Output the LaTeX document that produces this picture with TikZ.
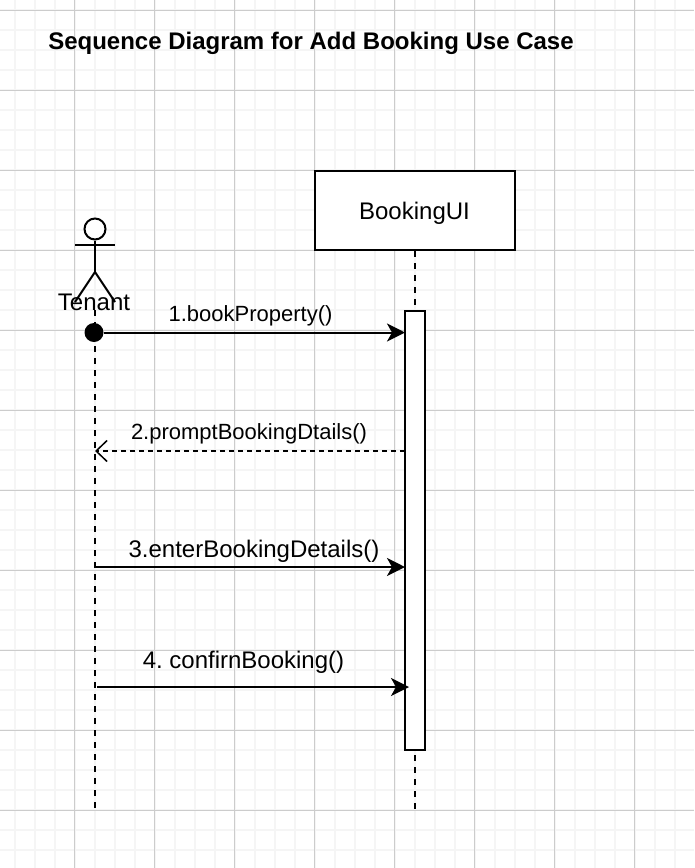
\documentclass[tikz,border=0pt]{standalone}
\usepackage{fontspec}
\setmainfont{Liberation Sans}
\usetikzlibrary{arrows.meta}
\frenchspacing

\tikzset{
  msg/.style={line width=2pt, -{Stealth[length=18pt,width=18pt,inset=5pt]}},
  reply/.style={line width=1.5pt, dash pattern=on 5pt off 4pt, -{Straight Barb[length=11pt,width=21pt]}},
  life/.style={line width=2pt, dash pattern=on 6pt off 6pt},
  stick/.style={line width=2pt},
  lbl/.style={inner sep=0pt, font=\fontsize{22}{26}\selectfont},
  lblbig/.style={inner sep=0pt, font=\fontsize{24}{28}\selectfont}
}

\begin{document}
\begin{tikzpicture}[x=1pt,y=-1pt]
\useasboundingbox (0,0) rectangle (694,868);

% grid
\foreach \x in {14.5,34.5,...,694} \draw[line width=2pt, black!4] (\x,0)--(\x,868);
\foreach \y in {10,30,...,868} \draw[line width=2pt, black!4] (0,\y)--(694,\y);
\foreach \x in {74.5,154.5,...,694} \draw[line width=1pt, black!20] (\x,0)--(\x,868);
\foreach \y in {10,90,...,868} \draw[line width=1pt, black!20] (0,\y)--(694,\y);

\node[inner sep=0pt, font=\fontsize{24}{28}\selectfont\bfseries] (title) at (311,43) {Sequence Diagram for Add Booking Use Case};

% lifelines
\coordinate (tenantTop) at (95,310);
\coordinate (tenantEnd) at (95,810);
\coordinate (bookingEnd) at (415,810);
\node[draw, stick, fill=white, minimum width=200pt, minimum height=79pt, inner sep=0pt] (booking) at (415,210.5) {};
\node[lblbig] (bookinglbl) at (414.5,213) {BookingUI};
\draw[life] (tenantTop)--(tenantEnd);
\draw[life] (booking.south)--(bookingEnd);
\node[draw, stick, fill=white, minimum width=20pt, minimum height=439pt, inner sep=0pt] (act) at (415,530.5) {};

% actor
\node[draw, stick, fill=white, circle, minimum size=21pt, inner sep=0pt] (head) at (95,229) {};
\coordinate (armL) at (75,245);
\coordinate (armR) at (115,245);
\coordinate (hip) at (95,272);
\coordinate (legL) at (75,302);
\coordinate (legR) at (115,302);
\draw[stick] (armL)--(armR);
\draw[stick] (head.south)--(hip);
\draw[stick] (legL)--(hip)--(legR);
\node[inner sep=0pt, font=\fontsize{24}{28}\selectfont] (tenant) at (94,302) {Tenant};

% messages
\node[circle, fill=black, minimum size=19pt, inner sep=0pt] (start) at (94,332.5) {};
\coordinate (m1) at (405,332.5);
\coordinate (m2a) at (405,451);
\coordinate (m2b) at (95,451);
\coordinate (m3a) at (95,567);
\coordinate (m3b) at (405,567);
\coordinate (m4a) at (97,687);
\coordinate (m4b) at (409,687);

\draw[msg] (start)--(m1);
\draw[reply] (m2a)--(m2b);
\draw[msg] (m3a)--(m3b);
\draw[msg] (m4a)--(m4b);

\node[lbl] (l1) at (250.5,316) {1.bookProperty()};
\node[lbl] (l2) at (249,434) {2.promptBookingDtails()};
\node[lblbig] (l3) at (254,551) {3.enterBookingDetails()};
\node[lblbig] (l4) at (243.5,662) {4. confirnBooking()};

\end{tikzpicture}
\end{document}
